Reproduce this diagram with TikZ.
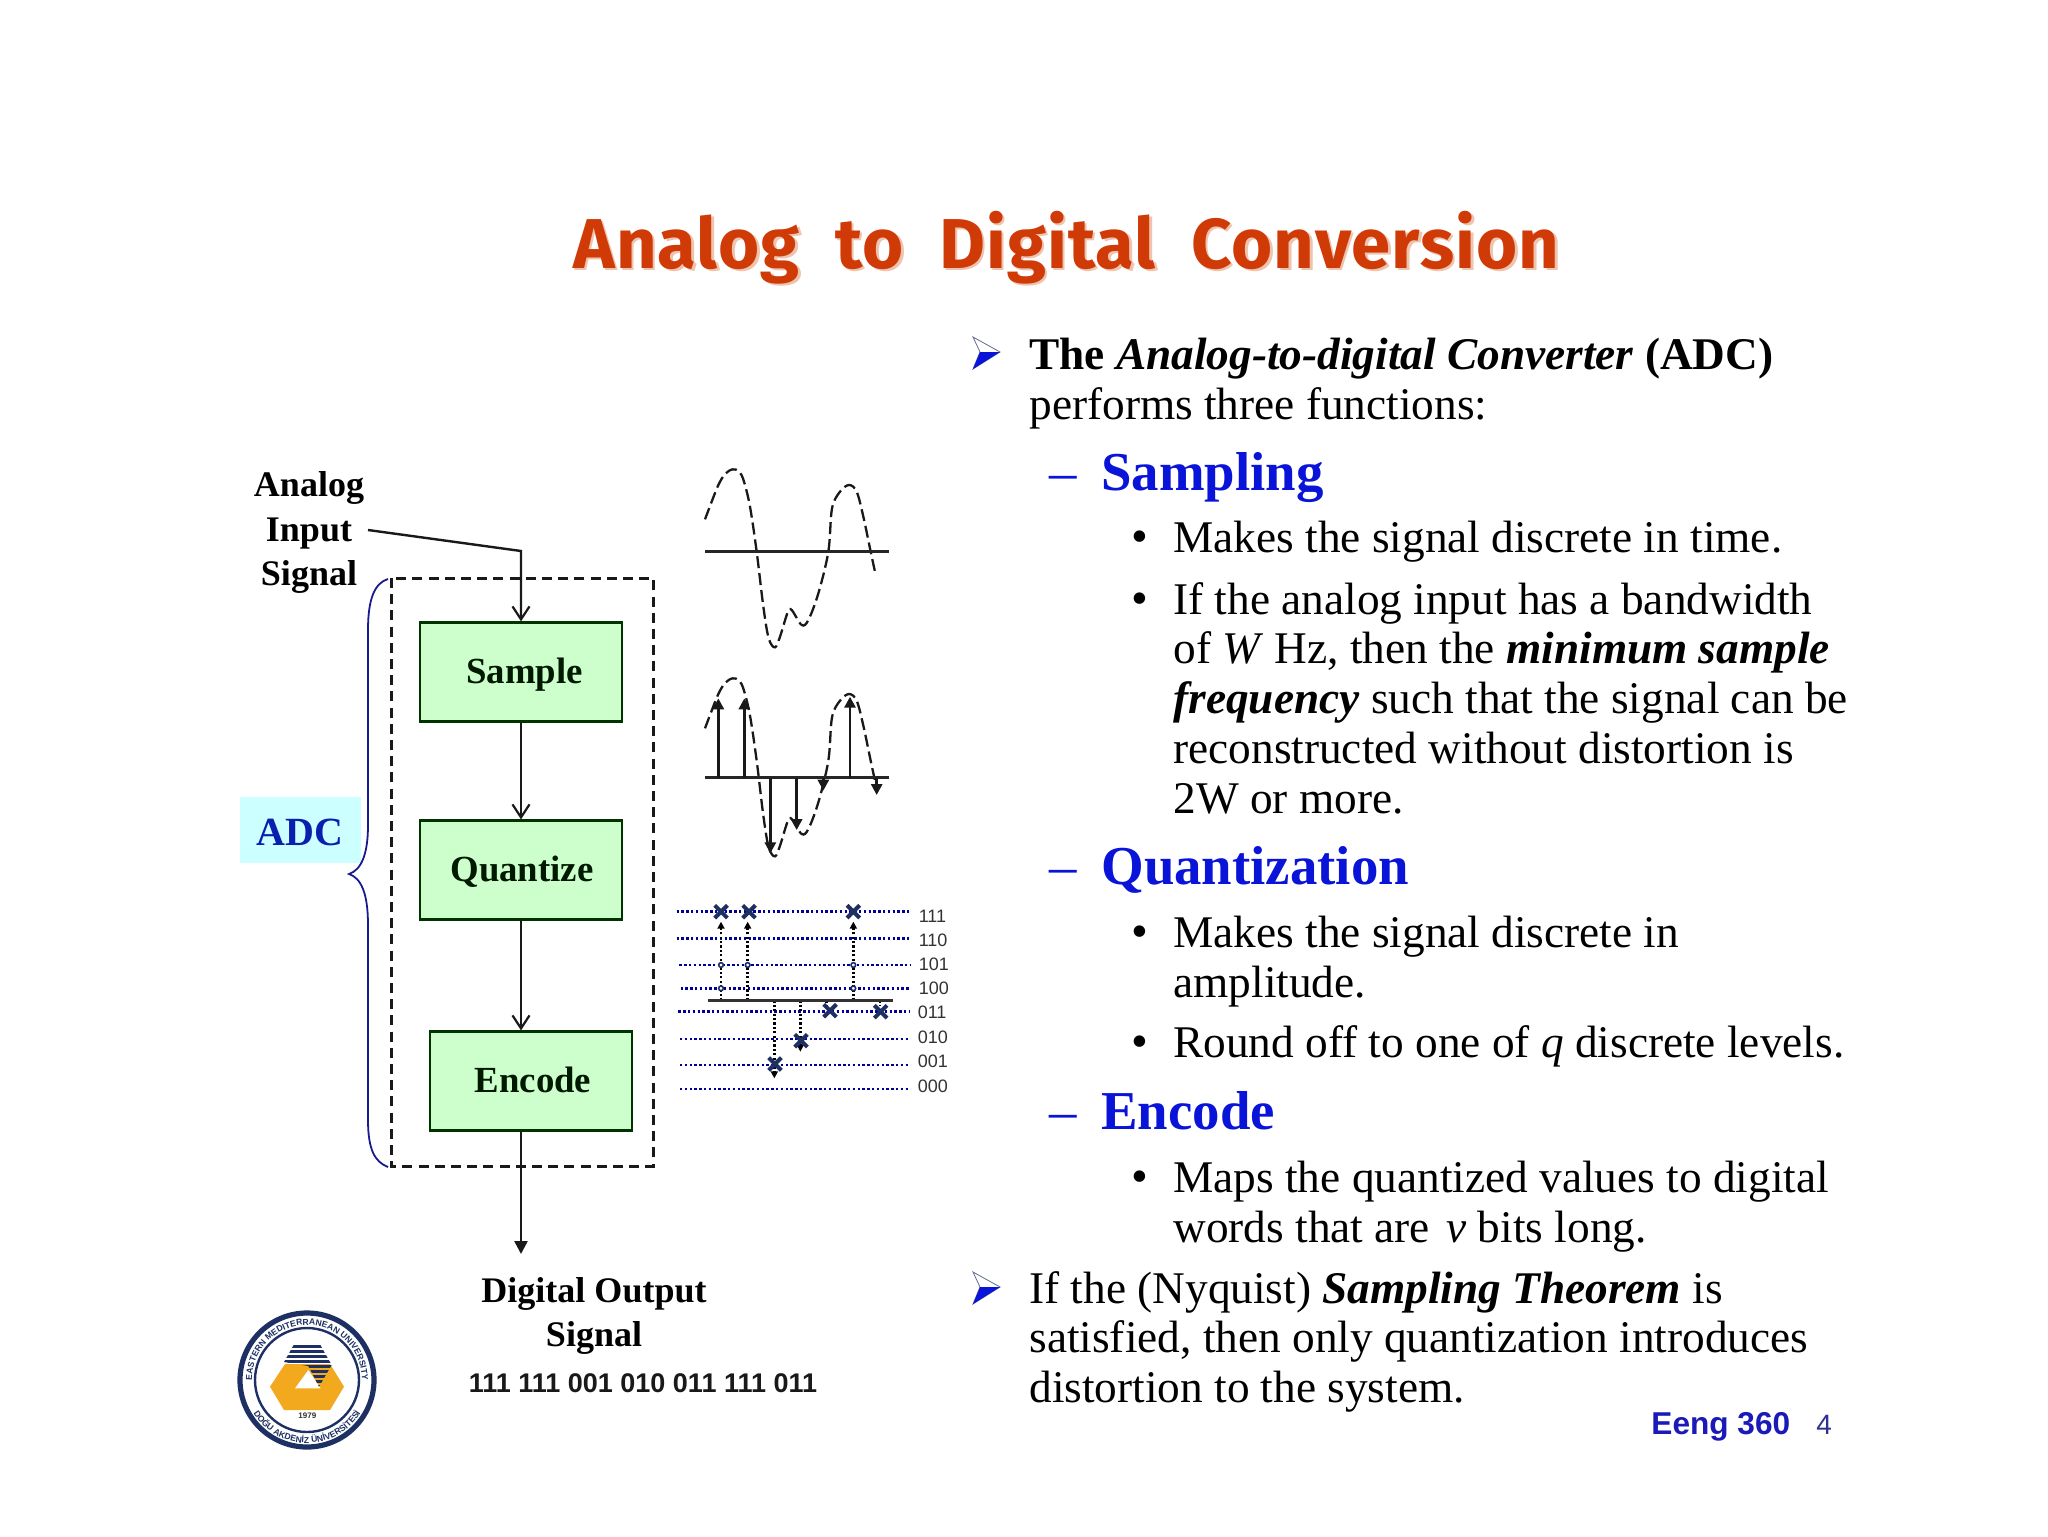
\documentclass[tikz,border=0pt]{standalone}
\usepackage{fontspec}
\setmainfont{Liberation Serif}
\newfontfamily\helv{Liberation Sans}
\newfontfamily\titlef[WordSpace=2.0,LetterSpace=1.5]{Fira Sans}
\usetikzlibrary{arrows.meta,decorations.text}
\definecolor{boxgreen}{HTML}{CCFFCC}
\definecolor{adcblue}{HTML}{0A1FB0}
\definecolor{headblue}{HTML}{0A14D8}
\definecolor{adcbg}{HTML}{CCFFFF}
\definecolor{navy}{HTML}{1D2F63}
\definecolor{gold}{HTML}{F2A91E}
\definecolor{titlered}{HTML}{D03A06}
\definecolor{titleshadow}{HTML}{EFC4AE}
\definecolor{bracecol}{HTML}{1A1A90}
\definecolor{footblue}{HTML}{1A1AB8}
\definecolor{pgblue}{HTML}{30308F}
\tikzset{
  flowbox/.style={draw=black!80!green,line width=1.1pt,fill=boxgreen,minimum width=101pt,minimum height=49.5pt,inner sep=0pt,text height=15pt,text depth=4pt,text=black!90!green,font=\fontsize{18.4}{18}\selectfont\bfseries},
  lab/.style={font=\fontsize{18}{22.3}\selectfont\bfseries,align=center,inner sep=0pt},
  txt/.style={anchor=base west,inner sep=0pt,font=\fontsize{22.65}{25}\selectfont},
  hd/.style={anchor=base west,inner sep=0pt,text=headblue,font=\fontsize{27.4}{27}\selectfont\bfseries},
  dashn/.style={anchor=base west,inner sep=0pt,text=headblue,font=\fontsize{27.4}{27}\selectfont},
  blt/.style={anchor=base west,inner sep=0pt,font=\fontsize{24}{25}\selectfont},
  conn/.style={line width=1.2pt,black!90},
  openhead/.style={-{Straight Barb[length=6.5pt,width=8.5pt,line width=1.1pt]}},
  fullhead/.style={-{Triangle[length=6.5pt,width=6.5pt]}},
  wave/.style={line width=1.15pt,dash pattern=on 6pt off 2.5pt,black!90},
  level/.style={line width=1.4pt,dash pattern=on 1.2pt off 1.2pt,blue!60!black},
  stem/.style={line width=1.3pt,dash pattern=on 1.1pt off 1.1pt,black},
  cross/.style={line width=2pt,navy},
  levlab/.style={anchor=base west,inner sep=0pt,text=black!80,font=\helv\fontsize{9}{9}\selectfont},
}
\newcommand{\arrbul}[2]{%
  \draw[navy!70,line width=0.4pt,fill=white,shift={(#1,#2)}] (-13,-16) -- (14,-1) -- (-13,16) -- (-6,-1) -- cycle;
  \fill[headblue,shift={(#1,#2)}] (-6,-1) -- (14,-1) -- (-13,16) -- cycle;}
\newcommand{\wavepath}{(135,238) (155,185) (175,135) (195,102) (218,88) (238,95) (252,125) (270,200) (290,335) (310,500) (326,595) (345,622) (360,590) (383,517) (395,510) (425,555) (445,540) (475,460) (505,335) (516,205) (540,155) (567,135) (590,155) (610,230) (632,335) (647,405)}
\begin{document}
\begin{tikzpicture}[x=0.5pt,y=-0.5pt]
\useasboundingbox (0,0) rectangle (2048,1536);
\fill[white] (0,0) rectangle (2048,1536);
% title
\node[inner sep=0pt,text=titleshadow,font=\titlef\fontsize{35.3}{36}\selectfont\bfseries] (titleshadow) at (1069,250) {Analog to Digital Conversion};
\node[inner sep=0pt,text=titlered,font=\titlef\fontsize{35.3}{36}\selectfont\bfseries] (title) at (1066.5,247.5) {Analog to Digital Conversion};
% ADC box
\node[fill=adcbg,minimum width=60.5pt,minimum height=33pt,inner sep=0pt,text height=15pt,text depth=0pt,text=adcblue,font=\fontsize{20}{20}\selectfont\bfseries] (adc) at (300,830) {ADC};
% dashed frame
\draw[line width=1.5pt,dash pattern=on 5pt off 3.1pt,black!90] (391,578) rectangle (653,1166);
% brace
\draw[line width=0.9pt,bracecol] (388,579) .. controls (375,583) and (368,598) .. (368,630) -- (368,825) .. controls (368,855) and (361,870) .. (349,874) .. controls (361,878) and (368,893) .. (368,925) -- (368,1120) .. controls (368,1150) and (375,1162) .. (388,1167);
% boxes
\node[flowbox] (sample) at (521,672) {\hspace{3.5pt}Sample};
\node[flowbox] (quant) at (521,870) {\hspace{1pt}Quantize};
\node[flowbox] (encode) at (531,1081) {\hspace{2pt}Encode};
% labels
\node[lab] (ain) at (309,532.5) {Analog\\Input\\Signal};
\node[lab] (dout) at (594,1316) {Digital Output\\Signal};
\node[inner sep=0pt,font=\helv\fontsize{13.5}{14}\selectfont\bfseries,text=black!90] (bits) at (643,1383) {111 111 001 010 011 111 011};
% connectors
\coordinate (ainend) at (368,530);
\coordinate (bend) at (sample.north |- 0,551);
\draw[conn,openhead] (ainend) -- (bend) -- (sample.north);
\draw[conn,openhead] (sample.south) -- (quant.north);
\draw[conn,openhead] (quant.south) -- (quant.south |- encode.north);
\coordinate (outend) at (521,1254);
\draw[conn,fullhead] (encode.south -| outend) -- (outend);
% wave 1
\begin{scope}[shift={(660,440)},x=0.1666667pt,y=-0.1666667pt]
\draw[wave] plot[smooth,tension=0.55] coordinates {\wavepath};
\draw[line width=1.2pt,black!85] (135,335) -- (688,335);
\end{scope}
% wave 2 with samples
\begin{scope}[shift={(660,649)},x=0.1666667pt,y=-0.1666667pt]
\draw[wave] plot[smooth,tension=0.55] coordinates {\wavepath};
\end{scope}
\begin{scope}[shift={(660,440)},x=0.1666667pt,y=-0.1666667pt]
\draw[line width=1.2pt,black!85] (135,1013) -- (688,1013);
\foreach \xx/\yy in {175/775,253/775,331/1240,410/1170,490/1052,570/770,650/1065}
  \draw[line width=1.4pt,black!90,-{Triangle[length=5.5pt,width=5.5pt]}] (\xx,1013) -- (\xx,\yy);
\end{scope}
% quantization
\begin{scope}[shift={(660,890)},x=0.1666667pt,y=-0.1666667pt]
\foreach \xa/\xb/\yy in {50/750/65,50/750/145,58/750/225,62/750/295,55/750/365,60/750/447,60/750/525,60/750/597}
  \draw[level] (\xa,\yy) -- (\xb,\yy);
\foreach \xx/\yy in {183/95,263/95,580/95}
  \draw[stem,-{Triangle[length=3.5pt,width=3.5pt]}] (\xx,331) -- (\xx,\yy);
\foreach \xx/\yy in {343/565,421/485}
  \draw[stem,-{Triangle[length=3.5pt,width=3.5pt]}] (\xx,331) -- (\xx,\yy);
\draw[stem] (500,331) -- (500,345);
\draw[stem] (660,331) -- (660,345);
\foreach \xx/\yy in {183/225,263/225,580/225,183/295,580/295}
  \draw[line width=0.8pt,navy,fill=white] (\xx,\yy) circle (7);
\draw[line width=1.2pt,black!80] (145,331) -- (698,331);
\foreach \xx/\yy in {183/65,267/65,580/65,510/362,662/365,423/452,345/522}
  \draw[cross] (\xx-19,\yy-19) -- (\xx+19,\yy+19) (\xx-19,\yy+19) -- (\xx+19,\yy-19);
\foreach \lab/\xx/\yy in {111/775/96,110/775/168,101/775/240,100/775/313,011/772/386,010/772/460,001/772/533,000/772/608}
  \node[levlab] (lev\lab) at (\xx,\yy) {\lab};
\end{scope}
% logo
\begin{scope}[shift={(307,1380)}]
\draw[navy,line width=2.6pt] (0,0) circle (67);
\draw[navy,line width=1.2pt] (0,0) circle (52);
\path[postaction={decorate,decoration={text along path,text align=center,text={|\helv\fontsize{4.3}{4.5}\selectfont\bfseries\color{navy}|EASTERN MEDITERRANEAN UNIVERSITY}}}] (165:55) arc (165:375:55);
\path[postaction={decorate,decoration={text along path,text align=center,text={|\helv\fontsize{4.3}{4.5}\selectfont\bfseries\color{navy}|DOĞU AKDENİZ ÜNİVERSİTESİ}}}] (150:63) arc (150:30:63);
\end{scope}
\begin{scope}[shift={(220,1290)},x=0.1666667pt,y=-0.1666667pt]
\fill[gold] (150,290) -- (195,222) -- (330,222) -- (372,290) -- (330,360) -- (192,360) -- cycle;
\fill[white] (225,295) -- (265,240) -- (302,295) -- cycle;
\begin{scope}
\clip (222,163) -- (300,163) -- (335,225) -- (297,290) -- (265,228) -- (192,216) -- cycle;
\foreach \yy in {165,180,195,210,225,240,255,270,285}
  \fill[navy] (180,\yy) rectangle (345,\yy+9);
\end{scope}
\node[inner sep=0pt,text=black!80,font=\helv\fontsize{4}{4}\selectfont\bfseries] (yr) at (262,376) {1979};
\end{scope}
% right text
\arrbul{986}{353}
\node[txt,font=\fontsize{22.65}{25}\selectfont\bfseries] (t1) at (1029,369) {The \textit{Analog-to-digital Converter} (ADC)};
\node[txt] (t2) at (1029,419) {performs three functions:};
\node[dashn] (d1) at (1049,490) {–};
\node[hd] (h1) at (1101,490) {Sampling};
\node[blt] (b1) at (1131,552) {•};
\node[txt] (t3) at (1173,552) {Makes the signal discrete in time.};
\node[blt] (b2) at (1131,614) {•};
\node[txt] (t4) at (1173,614) {If the analog input has a bandwidth};
\node[txt] (t5) at (1173,663) {of \textit{W} Hz, then the \textbf{\textit{minimum sample}}};
\node[txt] (t6) at (1173,713) {\textbf{\textit{frequency}} such that the signal can be};
\node[txt] (t7) at (1173,763) {reconstructed without distortion is};
\node[txt] (t8) at (1173,813) {2W or more.};
\node[dashn] (d2) at (1049,884) {–};
\node[hd] (h2) at (1101,884) {Quantization};
\node[blt] (b3) at (1131,947) {•};
\node[txt] (t9) at (1173,947) {Makes the signal discrete in};
\node[txt] (t10) at (1173,997) {amplitude.};
\node[blt] (b4) at (1131,1057) {•};
\node[txt] (t11) at (1173,1057) {Round off to one of \textit{q} discrete levels.};
\node[dashn] (d3) at (1049,1129) {–};
\node[hd] (h3) at (1101,1129) {Encode};
\node[blt] (b5) at (1131,1192) {•};
\node[txt] (t12) at (1173,1192) {Maps the quantized values to digital};
\node[txt] (t13) at (1173,1242) {words that are\hspace{2.6pt} \textit{ν} bits long.};
\arrbul{986}{1288}
\node[txt] (t14) at (1029,1303) {If the (Nyquist) \textbf{\textit{Sampling Theorem}} is};
\node[txt] (t15) at (1029,1352) {satisfied, then only quantization introduces};
\node[txt] (t16) at (1029,1402) {distortion to the system.};
\node[anchor=base west,inner sep=0pt,text=footblue,font=\helv\fontsize{15.8}{17}\selectfont\bfseries] (foot) at (1651,1434) {Eeng 360};
\node[anchor=base west,inner sep=0pt,text=pgblue,font=\helv\fontsize{14}{14}\selectfont] (pg) at (1816,1434) {4};
\end{tikzpicture}
\end{document}
